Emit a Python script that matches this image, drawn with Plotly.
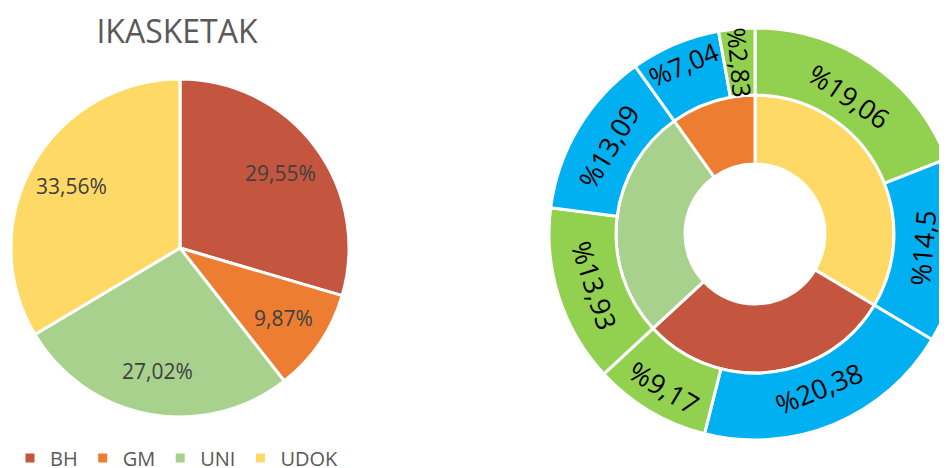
import math
import plotly.graph_objects as go

# ---- data ----
categories = ["BH", "GM", "UNI", "UDOK"]
shares = [29.55, 9.87, 27.02, 33.56]
cat_colors = ["#C4553F", "#ED7D31", "#A9D18E", "#FFD966"]

ring_order = ["UDOK", "BH", "UNI", "GM"]

outer_labels = ["UDOK 1", "UDOK 2", "BH 1", "BH 2", "UNI 1", "UNI 2", "GM 1", "GM 2"]
outer_values = [19.06, 14.5, 20.38, 9.17, 13.93, 13.09, 7.04, 2.83]
outer_kind = ["g", "b", "b", "g", "g", "b", "b", "g"]
kind_colors = {"g": "#92D050", "b": "#00B0F0"}

title_text = "IKASKETAK"

FONT = "Open Sans"
W, H = 962, 468

# geometry (figure pixels)
PIE_CX, PIE_CY, PIE_R = 172, 240, 169
RING_CX, RING_CY = 747, 226
OUT_R, IN_R, HOLE_R = 206, 139, 70


def fmt_pct_after(v):
    return f"{v:.2f}".replace(".", ",") + "%"


def fmt_pct_before(v):
    return "%" + f"{v:g}".replace(".", ",")


def dom_x(cx, r):
    return [max(0, (cx - r) / W), min(1, (cx + r) / W)]


def dom_y(cy, r):
    return [(H - cy - r) / H, (H - cy + r) / H]


def mid_angles(vals):
    tot = sum(vals)
    out, acc = [], 0.0
    for v in vals:
        out.append(360.0 * (acc + v / 2) / tot)
        acc += v
    return out


def polar_to_paper(cx, cy, r, ang):
    a = math.radians(ang)
    x = cx + r * math.sin(a)
    y = cy - r * math.cos(a)
    return x / W, 1 - y / H


fig = go.Figure()

# left pie
fig.add_trace(go.Pie(
    labels=categories, values=shares, sort=False, direction="clockwise", rotation=0,
    marker=dict(colors=cat_colors, line=dict(color="white", width=3)),
    textinfo="none",
    domain=dict(x=dom_x(PIE_CX, PIE_R), y=dom_y(PIE_CY, PIE_R)),
    hoverinfo="label+percent", showlegend=True,
))

# inner ring
col_map = dict(zip(categories, cat_colors))
val_map = dict(zip(categories, shares))
fig.add_trace(go.Pie(
    labels=ring_order, values=[val_map[c] for c in ring_order], sort=False,
    direction="clockwise", rotation=0, hole=HOLE_R / IN_R,
    marker=dict(colors=[col_map[c] for c in ring_order], line=dict(color="white", width=3)),
    textinfo="none", domain=dict(x=dom_x(RING_CX, IN_R), y=dom_y(RING_CY, IN_R)),
    showlegend=False,
))

# outer ring (tangential labels)
outer_text = [fmt_pct_before(v) for v in outer_values]
fig.add_trace(go.Pie(
    labels=outer_labels, values=outer_values, sort=False,
    direction="clockwise", rotation=0, hole=IN_R / OUT_R,
    marker=dict(colors=[kind_colors[k] for k in outer_kind], line=dict(color="white", width=3)),
    text=[t if v > 5 else "" for t, v in zip(outer_text, outer_values)], textinfo="text",
    textposition="inside", insidetextorientation="tangential",
    textfont=dict(family=FONT, size=27, color="black"),
    domain=dict(x=dom_x(RING_CX, OUT_R), y=dom_y(RING_CY, OUT_R)),
    showlegend=False,
))

annotations = []
# left pie value labels
for v, ang in zip(shares, mid_angles(shares)):
    px, py = polar_to_paper(PIE_CX, PIE_CY, 0.74 * PIE_R, ang)
    annotations.append(dict(x=px, y=py, xref="paper", yref="paper", showarrow=False,
                            xanchor="center", yanchor="middle",
                            text=fmt_pct_after(v),
                            font=dict(family=FONT, size=21, color="#404040")))
# small outer slice label, radial
for v, ang in zip(outer_values, mid_angles(outer_values)):
    if v <= 5:
        px, py = polar_to_paper(RING_CX, RING_CY, (OUT_R + IN_R) / 2, ang)
        annotations.append(dict(x=px, y=py, xref="paper", yref="paper", showarrow=False,
                                xanchor="center", yanchor="middle",
                                text=fmt_pct_before(v), textangle=(ang + 90) % 360,
                                font=dict(family=FONT, size=25, color="black")))

fig.update_layout(
    width=W, height=H,
    margin=dict(l=0, r=0, t=0, b=0, autoexpand=False),
    paper_bgcolor="white", plot_bgcolor="white",
    font=dict(family=FONT, color="#595959"),
    title=dict(text=title_text, x=169 / W, xanchor="center", xref="paper",
               y=1 - 23.5 / H, yanchor="middle", yref="container",
               font=dict(family=FONT, size=32, color="#595959")),
    legend=dict(orientation="h", x=169 / W, xanchor="center", y=(H - 450) / H,
                yanchor="middle", font=dict(family=FONT, size=20, color="#595959"),
                bgcolor="rgba(0,0,0,0)"),
    annotations=annotations,
)

fig.write_html("out.html")
